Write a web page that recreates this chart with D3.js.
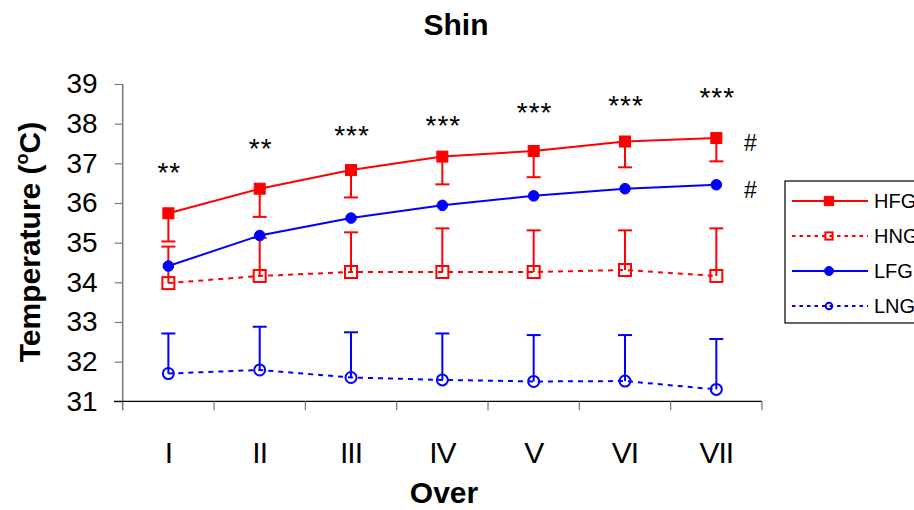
<!DOCTYPE html>
<html>
<head>
<meta charset="utf-8">
<script src="https://cdn.jsdelivr.net/npm/d3@7"></script>
<style>
  html, body { margin: 0; padding: 0; background: #fff; }
  svg { display: block; font-family: "Liberation Sans", Arial, sans-serif; }
</style>
</head>
<body>
<svg id="chart" width="914" height="510"></svg>
<script>
// Shin temperature per over, four groups (mean with one-sided SD bars)
const categories = ["I", "II", "III", "IV", "V", "VI", "VII"];
const yTicks = [31, 32, 33, 34, 35, 36, 37, 38, 39];

const hfg   = [35.74, 36.36, 36.83, 37.17, 37.31, 37.55, 37.64];
const hfgSd = [0.71, 0.71, 0.69, 0.70, 0.66, 0.65, 0.59];
const hng   = [33.98, 34.16, 34.26, 34.26, 34.26, 34.31, 34.16];
const hngSd = [0.92, 0.96, 1.00, 1.10, 1.05, 1.00, 1.20];
const lfg   = [34.41, 35.18, 35.62, 35.94, 36.18, 36.36, 36.46];
const lng   = [31.70, 31.79, 31.60, 31.54, 31.50, 31.51, 31.30];
const lngSd = [1.01, 1.09, 1.14, 1.17, 1.17, 1.16, 1.27];

// significance marks between groups, and the level they sit at
const sigText  = ["**", "**", "***", "***", "***", "***", "***"];
const sigLevel = [36.92, 37.53, 37.86, 38.12, 38.45, 38.61, 38.83];

const seriesNames = ["HFG", "HNG", "LFG", "LNG"];

const svg = d3.select("#chart");
const RED = "#ff0000", BLUE = "#0000ff";

const x = d3.scaleBand().domain(categories).range([122.7, 762]).padding(0);
const y = d3.scaleLinear().domain([31, 39]).range([401.3, 84]);
const cx = c => x(c) + x.bandwidth() / 2;

const series = [
  { name: "HFG", values: hfg, sd: hfgSd, dir: -1, color: RED,  dash: null,  marker: "square", fill: true },
  { name: "HNG", values: hng, sd: hngSd, dir: 1,  color: RED,  dash: "5,5", marker: "square", fill: false },
  { name: "LFG", values: lfg, sd: null,  dir: 1,  color: BLUE, dash: null,  marker: "circle", fill: true },
  { name: "LNG", values: lng, sd: lngSd, dir: 1,  color: BLUE, dash: "5,5", marker: "circle", fill: false }
];

// title
svg.append("text").attr("x", 456).attr("y", 35).attr("text-anchor", "middle")
  .attr("font-size", 30).attr("font-weight", "bold").text("Shin");

// y axis
const yAxis = svg.append("g").attr("transform", "translate(122.7,0)")
  .call(d3.axisLeft(y).tickValues(yTicks).tickSize(8).tickPadding(17).tickFormat(d3.format("d")));
yAxis.select(".domain").remove();
yAxis.selectAll(".tick line").attr("stroke", "#777").attr("stroke-width", 1.2);
yAxis.selectAll(".tick text").attr("font-size", 28).attr("fill", "#000")
  .attr("font-family", "'Liberation Sans', Arial, sans-serif");
svg.append("line").attr("x1", 122.7).attr("x2", 122.7).attr("y1", y(39)).attr("y2", y(31) + 9)
  .attr("stroke", "#777").attr("stroke-width", 1.5);

// x axis
const xAxis = svg.append("g").attr("transform", `translate(0,${y(31)})`)
  .call(d3.axisBottom(x).tickSize(0).tickPadding(40));
xAxis.select(".domain").remove();
xAxis.selectAll(".tick text").attr("font-size", 30).attr("fill", "#000")
  .attr("letter-spacing", "-1px")
  .attr("font-family", "'Liberation Sans', Arial, sans-serif");
svg.append("line").attr("x1", 114).attr("x2", x.range()[1]).attr("y1", y(31)).attr("y2", y(31))
  .attr("stroke", "#000").attr("stroke-width", 1.3);
const edges = categories.map(c => x(c)).concat([x.range()[1]]).slice(1);
svg.append("g").selectAll("line").data(edges).join("line")
  .attr("x1", d => d).attr("x2", d => d).attr("y1", y(31)).attr("y2", y(31) + 9)
  .attr("stroke", "#777").attr("stroke-width", 1.2);

// axis titles
const yt = svg.append("text").attr("transform", "translate(40,242) rotate(-90)")
  .attr("text-anchor", "middle").attr("font-size", 30).attr("font-weight", "bold");
yt.append("tspan").text("Temperature (");
yt.append("tspan").attr("font-size", 18).attr("dy", -12).text("o");
yt.append("tspan").attr("dy", 12).text("C)");
svg.append("text").attr("x", 444).attr("y", 503).attr("text-anchor", "middle")
  .attr("font-size", 30).attr("font-weight", "bold").text("Over");

const plot = svg.append("g");
const line = d3.line().x((d, i) => cx(categories[i])).y(d => y(d));

function drawMarker(g, s, px, py, scale) {
  if (s.marker === "square") {
    const half = (s.fill ? 5.5 : 6) * scale;
    g.append("rect").attr("x", px - half).attr("y", py - half)
      .attr("width", half * 2).attr("height", half * 2)
      .attr("fill", s.fill ? s.color : "none").attr("stroke", s.color)
      .attr("stroke-width", s.fill ? 1 : 2);
  } else {
    g.append("circle").attr("cx", px).attr("cy", py).attr("r", (s.fill ? 5.3 : 5.5) * scale)
      .attr("fill", s.fill ? s.color : "none").attr("stroke", s.color)
      .attr("stroke-width", s.fill ? 1 : 2);
  }
}

series.forEach(s => {
  const g = plot.append("g");
  g.append("path").datum(s.values).attr("d", line).attr("fill", "none")
    .attr("stroke", s.color).attr("stroke-width", 2)
    .attr("stroke-dasharray", s.dash);
  if (s.sd) {
    s.values.forEach((v, i) => {
      const px = cx(categories[i]);
      const end = v + s.dir * s.sd[i];
      g.append("line").attr("x1", px).attr("x2", px).attr("y1", y(v)).attr("y2", y(end))
        .attr("stroke", s.color).attr("stroke-width", 2);
      g.append("line").attr("x1", px - 7).attr("x2", px + 7).attr("y1", y(end)).attr("y2", y(end))
        .attr("stroke", s.color).attr("stroke-width", 2);
    });
  }
  s.values.forEach((v, i) => drawMarker(g, s, cx(categories[i]), y(v), 1));
});

// significance stars
svg.append("g").selectAll("text").data(categories).join("text")
  .attr("x", (c, i) => cx(c) + 1).attr("y", (c, i) => y(sigLevel[i]) + 16)
  .attr("text-anchor", "middle").attr("font-size", 28).attr("letter-spacing", "1px")
  .text((c, i) => sigText[i]);

// within-group marks at the last over
[hfg, lfg].forEach(vals => {
  const last = categories.length - 1;
  svg.append("text").attr("x", cx(categories[last]) + 34).attr("y", y(vals[last]) + 13)
    .attr("text-anchor", "middle").attr("font-size", 23).text("#");
});

// legend
const lg = svg.append("g");
lg.append("rect").attr("x", 785).attr("y", 181).attr("width", 200).attr("height", 142)
  .attr("fill", "#fff").attr("stroke", "#000").attr("stroke-width", 1.2);
series.forEach((s, i) => {
  const ly = 201 + i * 35;
  lg.append("line").attr("x1", 792).attr("x2", 868).attr("y1", ly).attr("y2", ly)
    .attr("stroke", s.color).attr("stroke-width", 2)
    .attr("stroke-dasharray", s.dash ? "3.5,4" : null);
  drawMarker(lg.append("g"), s, 829, ly, s.fill ? 0.85 : 0.6);
  lg.append("text").attr("x", 874).attr("y", ly + 7).attr("font-size", 20).text(seriesNames[i]);
});
</script>
</body>
</html>
